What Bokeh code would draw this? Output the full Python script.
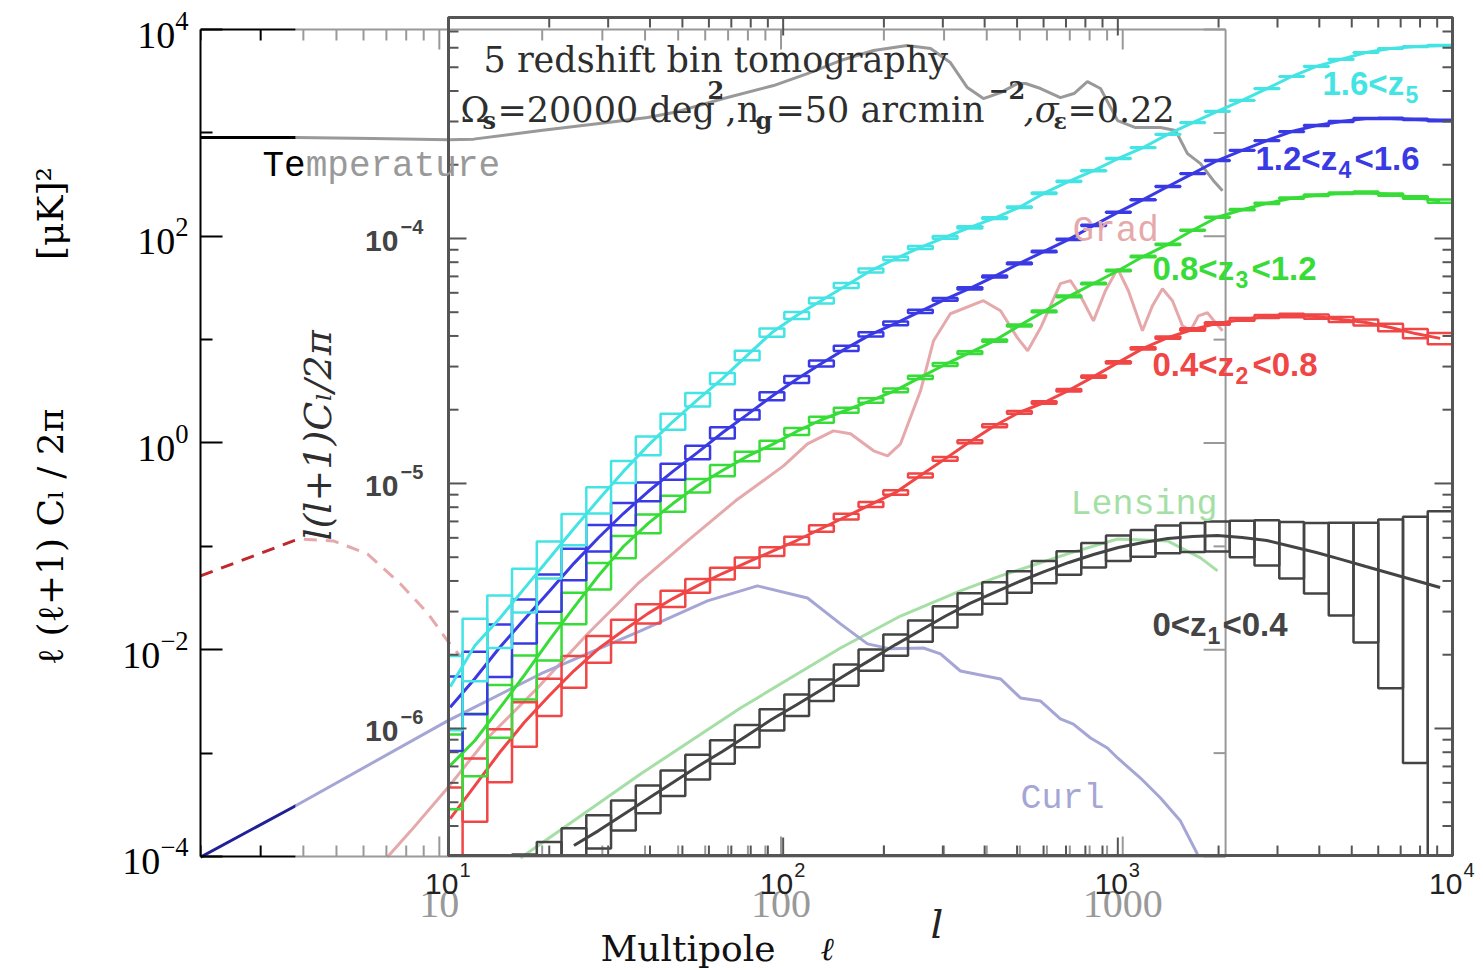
import numpy as np
from bokeh.plotting import figure
from bokeh.models import (FixedTicker, LogAxis, Label, LogTickFormatter, Range1d, LogScale)
from bokeh.embed import file_html
from bokeh.resources import INLINE

# ---------------- background CMB panel data (multipole l, l(l+1)C_l/2pi in muK^2) -----------
tt_l = [2, 3.8, 6.4, 10.6, 12.6, 19.8, 31.1, 40.7, 48.5, 67.9, 95.1, 119.5, 149.3, 186.6, 234,
        274, 313, 351, 391, 439, 492, 520, 575, 657, 720, 788, 861, 966, 1090, 1290, 1427,
        1547, 1689, 1843, 1959]
tt_v = [900, 900, 880, 860, 870, 1053, 1258, 1407, 1572, 2148, 2870, 3750, 5010, 6262, 7000,
        6540, 4790, 2745, 2148, 2455, 3001, 3001, 2685, 2196, 2401, 3137, 2685, 1315, 1125, 1125,
        1053, 630, 504, 345, 276]

grad_low_l = [2, 3.74, 3.92, 4.9, 6.16, 7.7, 9.23, 10.57, 11.5]
grad_low_v = [0.0518, 0.113, 0.118, 0.113, 0.0846, 0.0433, 0.0227, 0.0122, 0.0087]

grad_l = [7.05, 8.24, 10.57, 13.84, 19.38, 27.14, 38.02, 53.26, 73.6, 101.7, 119.5, 142.4, 159.7,
          186.6, 205, 223.7, 256, 279.5, 313, 391, 439, 492, 527, 575, 657, 703, 752, 821, 890,
          966, 1039, 1142, 1222, 1307, 1398, 1496, 1579, 1666, 1770, 1868, 1959]
grad_v = [9.86e-5, 1.76e-4, 4.59e-4, 1.40e-3, 4.27e-3, 1.42e-2, 4.33e-2, 0.113, 0.276, 0.601,
          0.982, 1.31, 1.23, 0.840, 0.752, 0.982, 3.20, 9.76, 17.8, 23.8, 19.0, 10.4, 7.81, 13.0,
          34.8, 37.2, 26.6, 15.2, 29.7, 48.6, 29.7, 12.2, 21.3, 31.1, 23.8, 13.6, 12.2, 17.0,
          18.2, 14.6, 12.2]

lensbb_l = [17.28, 38.8, 76.1, 149.3, 223.7, 335, 438.9, 689, 966, 1352, 1689, 1894]
lensbb_v = [9.65e-5, 6.28e-4, 2.73e-3, 1.04e-2, 2.12e-2, 3.71e-2, 5.18e-2, 8.46e-2, 0.118, 0.113,
            7.74e-2, 5.79e-2]

curl_l = [2, 3.74, 10.57, 19.77, 38.8, 60.9, 85.3, 119.5, 149.3, 179.1, 209, 261, 292.9, 335,
          438.9, 502, 575, 657, 717, 805, 902, 966, 1127, 1290, 1476, 1655]
curl_v = [9.87e-5, 3.01e-4, 2.05e-3, 5.83e-3, 1.52e-2, 2.97e-2, 4.15e-2, 3.17e-2, 1.78e-2,
          1.14e-2, 1.02e-2, 1.04e-2, 9.11e-3, 6.23e-3, 5.22e-3, 3.42e-3, 3.19e-3, 2.14e-3,
          1.91e-3, 1.40e-3, 1.12e-3, 8.97e-4, 5.74e-4, 3.68e-4, 2.20e-4, 1.05e-4]

cmb_y_ticks = [1e-4, 1e-2, 1, 1e2, 1e4]
cmb_y_minor = [1e-3, 1e-1, 1e1, 1e3]
cmb_x_ticks = [10, 100, 1000]
cmb_x_minor = [2, 3, 4, 5, 6, 7, 8, 9, 20, 30, 40, 50, 60, 70, 80, 90,
               200, 300, 400, 500, 600, 700, 800, 900]
CMB_L = (2, 2000)       # multipole range of the CMB panel
CMB_P = (1e-4, 1e4)     # power range of the CMB panel

# ---------------- foreground weak-lensing tomography data ----------------------------------
bin_edges = [9.29, 11.02, 13.06, 15.48, 18.36, 21.77, 25.81, 30.60, 36.28, 43.02, 51.00, 60.47,
             71.69, 85.01, 100.8, 119.5, 141.7, 168.0, 199.2, 236.1, 279.9, 331.9, 393.5, 466.6,
             553.2, 655.9, 777.6, 921.9, 1093, 1296, 1537, 1822, 2160, 2561, 3037, 3600, 4268,
             5061, 6000, 7114, 8434, 10000]

z5_power = [1.48e-6, 2.18e-6, 2.81e-6, 3.73e-6, 4.94e-6, 6.55e-6, 8.60e-6, 1.12e-5, 1.43e-5,
            1.79e-5, 2.20e-5, 2.68e-5, 3.33e-5, 4.13e-5, 4.85e-5, 5.58e-5, 6.43e-5, 7.40e-5,
            8.28e-5, 9.19e-5, 1.01e-4, 1.11e-4, 1.21e-4, 1.34e-4, 1.53e-4, 1.71e-4, 1.89e-4,
            2.12e-4, 2.35e-4, 2.66e-4, 2.97e-4, 3.30e-4, 3.66e-4, 4.09e-4, 4.58e-4, 5.04e-4,
            5.38e-4, 5.74e-4, 5.96e-4, 6.07e-4, 6.13e-4]
z5_err = [0.336, 0.285, 0.241, 0.203, 0.172, 0.146, 0.123, 0.104, 0.088, 0.075, 0.063, 0.053,
          0.045, 0.038, 0.032, 0.027, 0.023, 0.0195, 0.0165, 0.014, 0.012, 0.010, 0.0086, 0.0074,
          0.0064, 0.0056, 0.0049, 0.0043, 0.0038, 0.0036, 0.0034, 0.0032, 0.0031, 0.003, 0.0029,
          0.0029, 0.0028, 0.0029, 0.0031, 0.0034, 0.0037]

z4_power = [1.22e-6, 1.60e-6, 2.14e-6, 2.79e-6, 3.62e-6, 4.72e-6, 6.02e-6, 7.54e-6, 9.27e-6,
            1.12e-5, 1.34e-5, 1.61e-5, 1.91e-5, 2.27e-5, 2.66e-5, 3.09e-5, 3.56e-5, 4.06e-5,
            4.50e-5, 5.04e-5, 5.64e-5, 6.25e-5, 7.00e-5, 7.91e-5, 8.85e-5, 9.91e-5, 1.13e-4,
            1.28e-4, 1.44e-4, 1.63e-4, 1.84e-4, 2.08e-4, 2.29e-4, 2.51e-4, 2.73e-4, 2.89e-4,
            3.00e-4, 3.09e-4, 3.09e-4, 3.06e-4, 3.03e-4]
z4_err = [0.337, 0.286, 0.242, 0.204, 0.173, 0.146, 0.123, 0.104, 0.088, 0.075, 0.063, 0.053,
          0.045, 0.038, 0.033, 0.028, 0.024, 0.020, 0.017, 0.0145, 0.0123, 0.0108, 0.0094, 0.0082,
          0.0072, 0.0064, 0.0058, 0.0052, 0.0047, 0.0043, 0.0040, 0.0038, 0.0037, 0.0037, 0.0038,
          0.0040, 0.0043, 0.0048, 0.0054, 0.0062, 0.0072]

z3_power = [7.06e-7, 8.93e-7, 1.21e-6, 1.65e-6, 2.29e-6, 3.12e-6, 4.21e-6, 5.53e-6, 6.87e-6,
            8.28e-6, 9.81e-6, 1.13e-5, 1.29e-5, 1.44e-5, 1.63e-5, 1.82e-5, 1.99e-5, 2.18e-5,
            2.40e-5, 2.71e-5, 3.06e-5, 3.42e-5, 3.83e-5, 4.41e-5, 5.04e-5, 5.80e-5, 6.55e-5,
            7.40e-5, 8.44e-5, 9.45e-5, 1.08e-4, 1.22e-4, 1.31e-4, 1.39e-4, 1.46e-4, 1.50e-4,
            1.53e-4, 1.54e-4, 1.51e-4, 1.47e-4, 1.42e-4]
z3_err = [0.337, 0.286, 0.243, 0.204, 0.173, 0.147, 0.124, 0.104, 0.088, 0.075, 0.063, 0.053,
          0.045, 0.038, 0.033, 0.028, 0.024, 0.021, 0.018, 0.0156, 0.0136, 0.0119, 0.0105, 0.0094,
          0.0084, 0.0076, 0.0071, 0.0065, 0.0061, 0.0057, 0.0057, 0.0053, 0.0056, 0.0058, 0.0062,
          0.0068, 0.0076, 0.0087, 0.0104, 0.0123, 0.0149]

z2_power = [4.29e-7, 5.85e-7, 7.98e-7, 1.06e-6, 1.36e-6, 1.72e-6, 2.12e-6, 2.51e-6, 2.95e-6,
            3.39e-6, 3.83e-6, 4.29e-6, 4.76e-6, 5.28e-6, 5.85e-6, 6.55e-6, 7.33e-6, 8.21e-6,
            9.19e-6, 1.078e-5, 1.26e-5, 1.48e-5, 1.72e-5, 1.95e-5, 2.14e-5, 2.40e-5, 2.73e-5,
            3.12e-5, 3.56e-5, 3.94e-5, 4.25e-5, 4.50e-5, 4.67e-5, 4.80e-5, 4.85e-5, 4.80e-5,
            4.67e-5, 4.54e-5, 4.33e-5, 4.09e-5, 3.91e-5]
z2_err = [0.339, 0.288, 0.244, 0.206, 0.174, 0.148, 0.125, 0.106, 0.090, 0.077, 0.065, 0.055,
          0.048, 0.041, 0.036, 0.031, 0.027, 0.024, 0.021, 0.019, 0.017, 0.015, 0.0137, 0.0128,
          0.0121, 0.0115, 0.0112, 0.0107, 0.0105, 0.0104, 0.0112, 0.0115, 0.013, 0.0145, 0.0167,
          0.0195, 0.0234, 0.028, 0.035, 0.043, 0.053]

z1_power = [1.61e-7, 1.86e-7, 2.16e-7, 2.49e-7, 2.87e-7, 3.33e-7, 3.83e-7, 4.46e-7, 5.18e-7,
            6.02e-7, 7.00e-7, 8.06e-7, 9.36e-7, 1.09e-6, 1.25e-6, 1.44e-6, 1.66e-6, 1.91e-6,
            2.20e-6, 2.51e-6, 2.87e-6, 3.24e-6, 3.59e-6, 3.98e-6, 4.37e-6, 4.76e-6, 5.13e-6,
            5.48e-6, 5.74e-6, 5.96e-6, 6.07e-6, 6.13e-6, 6.02e-6, 5.85e-6, 5.53e-6, 5.23e-6,
            4.90e-6, 4.58e-6, 4.29e-6, 4.02e-6, 3.76e-6]
z1_err = [0.36, 0.31, 0.27, 0.23, 0.20, 0.175, 0.155, 0.14, 0.13, 0.12, 0.115, 0.11, 0.105,
          0.10, 0.10, 0.10, 0.10, 0.10, 0.10, 0.10, 0.10, 0.10, 0.10, 0.10, 0.105, 0.11, 0.115,
          0.12, 0.125, 0.13, 0.135, 0.14, 0.17, 0.21, 0.26, 0.32, 0.41, 0.51, 0.66, 0.82, 1.05]

lens_x_ticks = [10, 100, 1000, 10000]
lens_x_minor = [m * 10 ** e for e in (1, 2, 3) for m in range(2, 10)]
lens_y_ticks = [1e-6, 1e-5, 1e-4]
lens_y_minor = [m * 10 ** e for e in (-7, -6, -5, -4) for m in range(2, 10)]
LENS_X = (10, 1e4)           # multipole range of the tomography panel
LENS_Y = (3.03e-7, 7.98e-4)  # power range of the tomography panel

# ---------------- layout of the two superposed panels ---------------------------------------
# one frame holds both panels; each panel has its own pair of log scales
FRAME_CMB_X = (2, 11372)          # CMB l at the frame's left/right edges
FRAME_CMB_Y = (7.89e-6, 15272)    # CMB power at the frame's bottom/top edges
FRAME_LENS_X = (1.8155, 12378)    # tomography l at the frame's left/right edges
FRAME_LENS_Y = (1.0286e-7, 8.518e-4)
BACKDROP_L = 3.79                 # CMB multipole where the tomography backdrop begins
PX_DEC_CMB_X, PX_DEC_CMB_Y = 341.7, 103.375   # pixels per decade (CMB)
PX_DEC_LX, PX_DEC_LY = 334.7, 245.0           # pixels per decade (tomography)

C_TT, C_GRAD, C_LENS, C_CURL = "#000000", "#c0282d", "#1fae1f", "#202098"
C5, C4, C3, C2, C1 = "#45e4e4", "#3a3ae4", "#38dc38", "#f04646", "#444444"
AX2 = "#555555"
FADE = 0.6
DY = 9  # baseline correction for labels


def faded(hexcol):
    r, g, b = (int(hexcol[i:i + 2], 16) for i in (1, 3, 5))
    f = lambda c: int(round((1 - FADE) * c + FADE * 255))
    return "#%02x%02x%02x" % (f(r), f(g), f(b))


def label(p, text, x, y, font, size, color, style="normal", align="left",
          baseline="alphabetic", angle=0.0, units="screen", xr=None, yr=None, dx=0, dy=0):
    kw = {}
    if xr:
        kw["x_range_name"] = xr
    if yr:
        kw["y_range_name"] = yr
    p.add_layout(Label(x=x, y=y, x_units=units, y_units=units, text=text, text_font=font,
                       text_font_size=f"{size}px", text_color=color, text_font_style=style,
                       text_align=align, text_baseline=baseline, angle=angle, x_offset=dx,
                       y_offset=dy + (DY if baseline == "alphabetic" else 0), **kw))


p = figure(width=1483, height=970, x_axis_type="log", y_axis_type="log",
           x_range=Range1d(*FRAME_CMB_X), y_range=Range1d(*FRAME_CMB_Y),
           x_axis_location=None, y_axis_location=None, title_location=None,
           output_backend="svg", toolbar_location=None,
           min_border_left=200, min_border_right=0, min_border_top=10, min_border_bottom=0)
p.grid.grid_line_color = None
p.outline_line_color = None
p.extra_x_ranges = {"lx": Range1d(*FRAME_LENS_X)}
p.extra_y_ranges = {"ly": Range1d(*FRAME_LENS_Y)}
p.extra_x_scales = {"lx": LogScale()}
p.extra_y_scales = {"ly": LogScale()}

# CMB left axis (real axis)
ax = LogAxis(ticker=FixedTicker(ticks=cmb_y_ticks, minor_ticks=cmb_y_minor),
             formatter=LogTickFormatter(), bounds=CMB_P)
ax.axis_line_color = "#000000"
ax.axis_line_width = 2
ax.major_tick_line_color = ax.minor_tick_line_color = "#000000"
ax.major_tick_line_width = ax.minor_tick_line_width = 2
ax.major_tick_in, ax.major_tick_out = 22, 0
ax.minor_tick_in, ax.minor_tick_out = 12, 0
ax.major_label_text_font = "Liberation Serif"
ax.major_label_text_font_size = "38px"
ax.major_label_text_color = "#000000"
ax.major_label_standoff = 12
ax.axis_label = ("\u200b" + "\u00a0" * 13 + "\u2113 (\u2113+1) C\u2097 / 2\u03c0"
                 + "\u00a0" * 13 + "[\u03bcK]\u00b2")
ax.axis_label_text_font = "DejaVu Serif"
ax.axis_label_text_font_style = "normal"
ax.axis_label_text_font_size = "36px"
ax.axis_label_text_color = "#000000"
ax.axis_label_standoff = 48
p.add_layout(ax, "left")

# ---------------- CMB panel ------------------------------------------------------------------
p.line(tt_l, tt_v, line_color=C_TT, line_width=3)
p.line(grad_low_l, grad_low_v, line_color=C_GRAD, line_width=3, line_dash="13 9")
p.line(grad_l, grad_v, line_color=C_GRAD, line_width=3)
p.line(lensbb_l, lensbb_v, line_color=C_LENS, line_width=3)
p.line(curl_l, curl_v, line_color=C_CURL, line_width=3)

# CMB panel box (top, right, bottom) and inward ticks
p.segment(x0=[CMB_L[0], CMB_L[1], CMB_L[0]], y0=[CMB_P[1], CMB_P[0], CMB_P[0]],
          x1=[CMB_L[1], CMB_L[1], CMB_L[1]], y1=[CMB_P[1], CMB_P[1], CMB_P[0]],
          line_color="#000000", line_width=2)
cx = np.array(cmb_x_ticks + cmb_x_minor, dtype=float)
cfy = np.array([10 ** (20 / PX_DEC_CMB_Y)] * len(cmb_x_ticks)
               + [10 ** (11 / PX_DEC_CMB_Y)] * len(cmb_x_minor))
p.segment(x0=cx, y0=CMB_P[0], x1=cx, y1=CMB_P[0] * cfy, line_color="#000000", line_width=2)
p.segment(x0=cx, y0=CMB_P[1], x1=cx, y1=CMB_P[1] / cfy, line_color="#000000", line_width=2)
cy = np.array(cmb_y_ticks + cmb_y_minor, dtype=float)
cfx = np.array([10 ** (22 / PX_DEC_CMB_X)] * len(cmb_y_ticks)
               + [10 ** (12 / PX_DEC_CMB_X)] * len(cmb_y_minor))
p.segment(x0=CMB_L[1], y0=cy, x1=CMB_L[1] / cfx, y1=cy, line_color="#000000", line_width=2)

# semi-transparent backdrop of the tomography panel (fades the CMB panel behind it)
p.quad(left=BACKDROP_L, right=FRAME_CMB_X[1], bottom=FRAME_CMB_Y[0], top=FRAME_CMB_Y[1],
       fill_color="white", fill_alpha=FADE, line_color=None)

# ---------------- tomography panel ---------------------------------------------------------
edges = np.array(bin_edges)
left_e, right_e = np.maximum(edges[:-1], LENS_X[0]), edges[1:]
centers = np.sqrt(edges[:-1] * edges[1:])
series = [(z1_power, z1_err, C1), (z2_power, z2_err, C2), (z3_power, z3_err, C3),
          (z4_power, z4_err, C4), (z5_power, z5_err, C5)]
for vals, errs, col in series:
    v = np.array(vals)
    e = np.array(errs)
    top = v * (1 + e)
    bottom = np.maximum(np.where(e < 1, v * (1 - e), 0.0), LENS_Y[0])
    keep = top > LENS_Y[0]
    p.quad(left=left_e[keep], right=right_e[keep], bottom=bottom[keep], top=top[keep],
           fill_color=None, line_color=col, line_width=2.5, x_range_name="lx",
           y_range_name="ly")
    inside = v >= LENS_Y[0]
    p.line(centers[inside], v[inside], line_color=col, line_width=3, x_range_name="lx",
           y_range_name="ly")

p.quad(left=LENS_X[0], right=LENS_X[1], bottom=LENS_Y[0], top=LENS_Y[1], fill_color=None,
       line_color=AX2, line_width=3, x_range_name="lx", y_range_name="ly")
lx_all = np.array(lens_x_ticks + lens_x_minor, dtype=float)
lfy = np.array([10 ** (18 / PX_DEC_LY)] * len(lens_x_ticks)
               + [10 ** (10 / PX_DEC_LY)] * len(lens_x_minor))
p.segment(x0=lx_all, y0=LENS_Y[0], x1=lx_all, y1=LENS_Y[0] * lfy, line_color=AX2,
          line_width=2, x_range_name="lx", y_range_name="ly")
p.segment(x0=lx_all, y0=LENS_Y[1], x1=lx_all, y1=LENS_Y[1] / lfy, line_color=AX2,
          line_width=2, x_range_name="lx", y_range_name="ly")
ly_all = np.array(lens_y_ticks + lens_y_minor, dtype=float)
lfx = np.array([10 ** (18 / PX_DEC_LX)] * len(lens_y_ticks)
               + [10 ** (10 / PX_DEC_LX)] * len(lens_y_minor))
ok = (ly_all > LENS_Y[0]) & (ly_all < LENS_Y[1])
p.segment(x0=LENS_X[0], y0=ly_all[ok], x1=LENS_X[0] * lfx[ok], y1=ly_all[ok], line_color=AX2,
          line_width=2, x_range_name="lx", y_range_name="ly")
p.segment(x0=LENS_X[1], y0=ly_all[ok], x1=LENS_X[1] / lfx[ok], y1=ly_all[ok], line_color=AX2,
          line_width=2, x_range_name="lx", y_range_name="ly")

# ---------------- texts -----------------------------------------------------------------------
SANS, SERIF, MONO = "Liberation Sans", "DejaVu Serif", "Liberation Mono"
TXT = "#2e2e2e"

# CMB panel (faded where the tomography backdrop covers it)
label(p, "Te", 62, 795, MONO, 36, C_TT)
label(p, "mperature", 62 + 43.2, 795, MONO, 36, faded(C_TT))
label(p, "Grad", 872, 730, MONO, 36, faded(C_GRAD))
label(p, "Lensing", 870, 457, MONO, 35, faded(C_LENS))
label(p, "Curl", 820, 163, MONO, 35, faded(C_CURL))
for t in cmb_x_ticks:
    label(p, str(t), t, CMB_P[0], "Liberation Serif", 40, faded("#000000"), align="center",
          units="data", dy=-57)

# tomography panel tick labels
for t in lens_y_ticks:
    label(p, "10", LENS_X[0], t, SANS, 30, "#444444", "bold", align="right", units="data",
          xr="lx", yr="ly", dx=-50, dy=-12)
    label(p, "\u2212%d" % int(round(-np.log10(t))), LENS_X[0], t, SANS, 20, "#444444", "bold",
          units="data", xr="lx", yr="ly", dx=-48, dy=2)
for t in lens_x_ticks:
    label(p, "10", t, LENS_Y[0], SANS, 30, "#222222", align="right", units="data",
          xr="lx", yr="ly", dx=10, dy=-37)
    label(p, "%d" % int(round(np.log10(t))), t, LENS_Y[0], SANS, 20, "#222222",
          units="data", xr="lx", yr="ly", dx=11, dy=-23)

label(p, "l(l+1)C\u2097/2\u03c0", 117, 535, SERIF, 38, TXT, "italic", align="center",
      baseline="middle", angle=np.pi / 2)
label(p, "l", 730, 38, SERIF, 40, "#222222", "italic")
label(p, "Multipole", 400, 13, SERIF, 36, "#111111")
label(p, "\u2113", 620, 13, SERIF, 32, "#111111", "italic")

# survey description
label(p, "5 redshift bin tomography", 283, 902, SERIF, 35, TXT)
label(p, "\u03a9", 260, 852, SERIF, 35, TXT)
label(p, "s", 282, 841, SERIF, 24, TXT, "bold")
label(p, "=20000 deg", 297, 852, SERIF, 35, TXT)
label(p, "2", 507, 872, SERIF, 24, TXT, "bold")
label(p, ",n", 525, 852, SERIF, 35, TXT)
label(p, "g", 555, 841, SERIF, 24, TXT, "bold")
label(p, "=50 arcmin", 575, 852, SERIF, 35, TXT)
label(p, "\u22122", 788, 872, SERIF, 24, TXT, "bold")
label(p, ",\u03c3", 823, 852, SERIF, 35, TXT, "italic")
label(p, "\u03b5", 853, 841, SERIF, 22, TXT, "bold")
label(p, "=0.22", 867, 852, SERIF, 35, TXT)

# redshift bin labels
label(p, "1.6<z", 1122, 878, SANS, 33, C5, "bold")
label(p, "5", 1205, 867, SANS, 23, C5, "bold")
label(p, "1.2<z", 1055, 803, SANS, 33, C4, "bold")
label(p, "4", 1138, 792, SANS, 23, C4, "bold")
label(p, "<1.6", 1154, 803, SANS, 33, C4, "bold")
label(p, "0.8<z", 952, 693, SANS, 33, C3, "bold")
label(p, "3", 1035, 682, SANS, 23, C3, "bold")
label(p, "<1.2", 1051, 693, SANS, 33, C3, "bold")
label(p, "0.4<z", 952, 597, SANS, 33, C2, "bold")
label(p, "2", 1035, 586, SANS, 23, C2, "bold")
label(p, "<0.8", 1052, 597, SANS, 33, C2, "bold")
label(p, "0<z", 952, 337, SANS, 33, C1, "bold")
label(p, "1", 1007, 326, SANS, 23, C1, "bold")
label(p, "<0.4", 1022, 337, SANS, 33, C1, "bold")

open("out.html", "w").write(file_html(p, INLINE, title="CMB and lensing tomography"))
